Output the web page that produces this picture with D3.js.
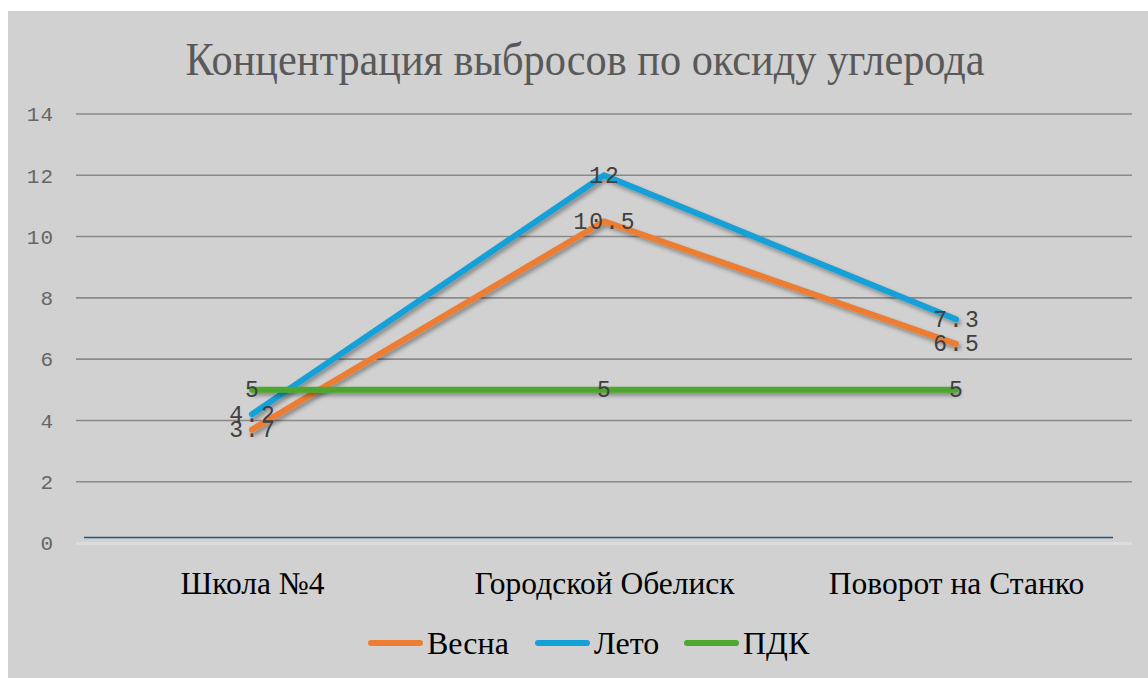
<!DOCTYPE html>
<html>
<head>
<meta charset="utf-8">
<script src="https://cdn.jsdelivr.net/npm/d3@7"></script>
<style>
  body { margin: 0; background: #fff; }
</style>
</head>
<body>
<svg id="chart"></svg>
<script>
// данные графика
const categories = ['Школа №4', 'Городской Обелиск', 'Поворот на Станко'];
const vesna = [3.7, 10.5, 6.5];
const leto = [4.2, 12, 7.3];
const pdk = [5, 5, 5];
const yTicks = [0, 2, 4, 6, 8, 10, 12, 14];
const seriesNames = ['Весна', 'Лето', 'ПДК'];
const seriesColors = ['#ED7D31', '#16A0D8', '#4EA72E'];

const W = 1148, H = 678;
const margin = { top: 114, right: 16, bottom: 135, left: 76 };
const width = W - margin.left - margin.right;
const height = H - margin.top - margin.bottom;

const svg = d3.select('#chart').attr('width', W).attr('height', H);

// тень для линий (в координатах страницы, иначе горизонтальная линия пропадает)
const defs = svg.append('defs');
const f = defs.append('filter').attr('id', 'shadow')
    .attr('filterUnits', 'userSpaceOnUse')
    .attr('x', 0).attr('y', 0).attr('width', W).attr('height', H);
f.append('feDropShadow').attr('dx', 2).attr('dy', 3).attr('stdDeviation', 2)
    .attr('flood-color', '#000').attr('flood-opacity', 0.35);

// фон
svg.append('rect').attr('x', 8).attr('y', 11).attr('width', W - 8).attr('height', H - 11)
    .attr('fill', '#d1d1d1');

// заголовок (чуть сжат по горизонтали, как в оригинале)
svg.append('text')
    .attr('transform', 'translate(585,75) scale(0.9,1)')
    .attr('text-anchor', 'middle')
    .style('font-family', '"Liberation Serif", "Times New Roman", serif')
    .style('font-size', '47px')
    .attr('fill', '#595959')
    .text('Концентрация выбросов по оксиду углерода');

const g = svg.append('g').attr('transform', `translate(${margin.left},${margin.top})`);

const x = d3.scalePoint().domain(categories).range([0, width]).padding(0.5);
const y = d3.scaleLinear().domain([0, 14]).range([height, 0]);

// сетка
g.append('g')
    .selectAll('line')
    .data(yTicks.filter(d => d > 0))
    .enter().append('line')
    .attr('x1', 0).attr('x2', width)
    .attr('y1', d => y(d)).attr('y2', d => y(d))
    .attr('stroke', '#8a8a8a').attr('stroke-width', 1.6);

// ось X (нижняя линия)
g.append('line')
    .attr('x1', 0).attr('x2', width)
    .attr('y1', y(0) + 0.5).attr('y2', y(0) + 0.5)
    .attr('stroke', '#dcdcdc').attr('stroke-width', 3);
g.append('line')
    .attr('x1', 8).attr('x2', width - 19)
    .attr('y1', y(0) - 5.5).attr('y2', y(0) - 5.5)
    .attr('stroke', '#1f5a80').attr('stroke-width', 1.5);

// ось Y
const yAxis = g.append('g')
    .call(d3.axisLeft(y).tickValues(yTicks).tickSize(0).tickPadding(22));
yAxis.select('.domain').remove();
yAxis.selectAll('text')
    .style('font-family', '"Liberation Mono", "Courier New", monospace')
    .style('font-size', '21px')
    .style('letter-spacing', '1px')
    .attr('fill', '#666');

// ось X подписи
const xAxis = g.append('g')
    .attr('transform', `translate(0,${height})`)
    .call(d3.axisBottom(x).tickSize(0).tickPadding(29));
xAxis.select('.domain').remove();
xAxis.selectAll('text')
    .style('font-family', '"Liberation Serif", "Times New Roman", serif')
    .style('font-size', '31.5px')
    .attr('fill', '#000');

// линии
const allSeries = [vesna, leto, pdk];
const line = d3.line().x((d, i) => x(categories[i])).y(d => y(d));

g.append('g').selectAll('path')
    .data(allSeries)
    .enter().append('path')
    .attr('d', d => line(d))
    .attr('fill', 'none')
    .attr('stroke', (d, i) => seriesColors[i])
    .attr('stroke-width', 6)
    .attr('stroke-linecap', 'round')
    .attr('stroke-linejoin', 'round')
    .attr('filter', 'url(#shadow)');

// подписи данных
allSeries.forEach(s => {
    g.append('g').selectAll('text')
        .data(s)
        .enter().append('text')
        .attr('x', (d, i) => x(categories[i]) + 1)
        .attr('y', d => y(d))
        .attr('dy', '0.33em')
        .attr('text-anchor', 'middle')
        .style('font-family', '"Liberation Mono", "Courier New", monospace')
        .style('font-size', '23px')
        .style('letter-spacing', '2px')
        .attr('fill', '#404040')
        .text(d => String(d));
});

// легенда
const legend = svg.append('g').attr('transform', 'translate(368,643)');
const legendX = [0, 167, 316];
seriesNames.forEach((name, i) => {
    const item = legend.append('g').attr('transform', `translate(${legendX[i]},0)`);
    item.append('line')
        .attr('x1', 3).attr('x2', 52).attr('y1', 0).attr('y2', 0)
        .attr('stroke', seriesColors[i]).attr('stroke-width', 6)
        .attr('stroke-linecap', 'round');
    item.append('text')
        .attr('x', 59).attr('y', 11)
        .style('font-family', '"Liberation Serif", "Times New Roman", serif')
        .style('font-size', '32px')
        .attr('fill', '#000')
        .text(name);
});
</script>
</body>
</html>
